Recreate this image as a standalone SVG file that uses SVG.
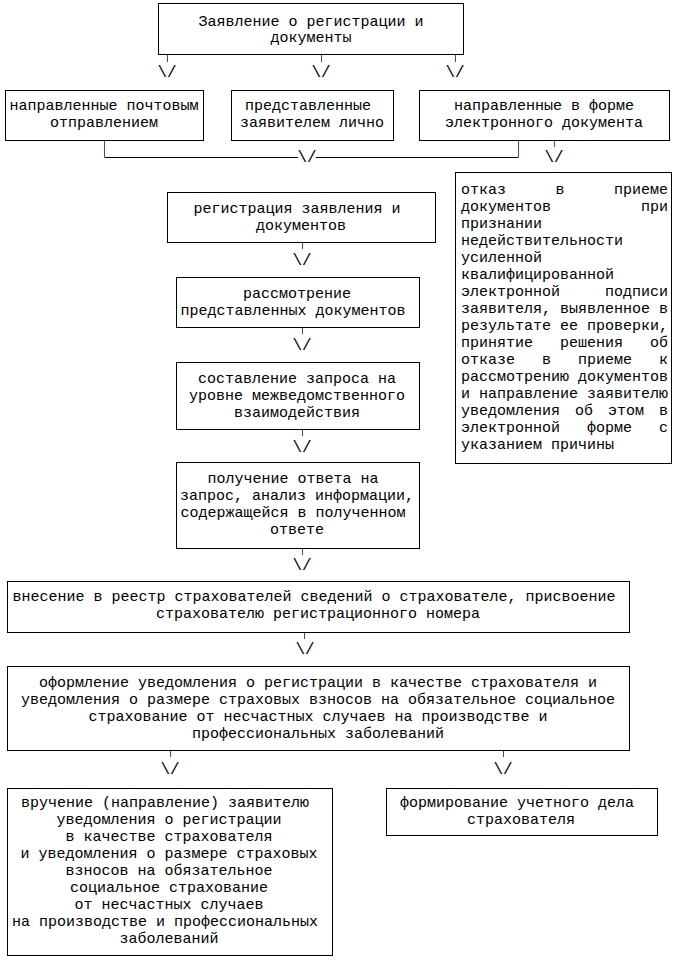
<svg xmlns="http://www.w3.org/2000/svg" width="676" height="960" viewBox="0 0 676 960">
<style>
.box{fill:#fff;stroke:#000;stroke-width:1}
.t{font-family:"Liberation Mono","Courier New",monospace;font-size:15px;fill:#000;text-anchor:middle}
.l{text-anchor:start}
.e{text-anchor:end}
.ar{font-family:"Liberation Mono","Courier New",monospace;font-size:16px;fill:#000;text-anchor:middle}
.p{stroke:#7030A0;stroke-width:1;fill:none}
.k{stroke:#000;stroke-width:1;fill:none}
</style>
<rect width="676" height="960" fill="#fff"/>
<g id="connectors">
<line class="p" x1="167.5" y1="55" x2="167.5" y2="62"/>
<line class="p" x1="321.5" y1="55" x2="321.5" y2="62"/>
<line class="p" x1="455.5" y1="55" x2="455.5" y2="62"/>
<text class="ar" x="167" y="77">\/</text>
<text class="ar" x="321" y="77">\/</text>
<text class="ar" x="455" y="77">\/</text>
<line class="p" x1="104.5" y1="140" x2="104.5" y2="157"/>
<polyline class="k" points="104.5,157.5 298,157.5"/>
<polyline class="k" points="316,157.5 518.5,157.5"/>
<line class="p" x1="518.5" y1="140" x2="518.5" y2="157"/>
<text class="ar" x="307" y="162">\/</text>
<line class="p" x1="554.5" y1="140" x2="554.5" y2="147"/>
<text class="ar" x="554" y="162">\/</text>
<line class="p" x1="302.5" y1="242" x2="302.5" y2="249"/>
<text class="ar" x="302" y="265">\/</text>
<line class="p" x1="302.5" y1="327" x2="302.5" y2="334"/>
<text class="ar" x="302" y="350">\/</text>
<line class="p" x1="302.5" y1="429" x2="302.5" y2="436"/>
<text class="ar" x="302" y="452">\/</text>
<line class="p" x1="302.5" y1="548" x2="302.5" y2="555"/>
<text class="ar" x="302" y="570">\/</text>
<line class="p" x1="304.5" y1="632" x2="304.5" y2="639"/>
<text class="ar" x="305" y="654">\/</text>
<line class="p" x1="170.5" y1="750" x2="170.5" y2="757"/>
<text class="ar" x="170" y="774">\/</text>
<line class="p" x1="503.5" y1="750" x2="503.5" y2="757"/>
<text class="ar" x="503" y="774">\/</text>
</g>
<g id="n1">
<rect class="box" x="158.5" y="3.5" width="305" height="51"/>
<text class="t" x="311" y="26">Заявление о регистрации и</text>
<text class="t" x="311" y="42">документы</text>
</g>
<g id="n2">
<rect class="box" x="5.5" y="90.5" width="198" height="50"/>
<text class="t" x="104" y="110">направленные почтовым</text>
<text class="t" x="104" y="127">отправлением</text>
</g>
<g id="n3">
<rect class="box" x="231.5" y="90.5" width="162" height="50"/>
<text class="t" x="308" y="110">представленные</text>
<text class="t" x="312" y="127">заявителем лично</text>
</g>
<g id="n4">
<rect class="box" x="419.5" y="90.5" width="250" height="50"/>
<text class="t" x="544" y="110">направленные в форме</text>
<text class="t" x="544" y="127">электронного документа</text>
</g>
<g id="n5">
<rect class="box" x="167.5" y="192.5" width="268" height="50"/>
<text class="t" x="297" y="213">регистрация заявления и</text>
<text class="t" x="301" y="230">документов</text>
</g>
<g id="n6">
<rect class="box" x="176.5" y="277.5" width="243" height="50"/>
<text class="t" x="297" y="298">рассмотрение</text>
<text class="t" x="293" y="315">представленных документов</text>
</g>
<g id="n7">
<rect class="box" x="176.5" y="362.5" width="243" height="67"/>
<text class="t" x="297" y="383">составление запроса на</text>
<text class="t" x="297" y="400">уровне межведомственного</text>
<text class="t" x="297" y="417">взаимодействия</text>
</g>
<g id="n8">
<rect class="box" x="176.5" y="462.5" width="243" height="86"/>
<text class="t" x="293" y="483">получение ответа на</text>
<text class="t" x="297" y="500">запрос, анализ информации,</text>
<text class="t" x="293" y="517">содержащейся в полученном</text>
<text class="t" x="297" y="534">ответе</text>
</g>
<g id="n9">
<rect class="box" x="455.5" y="172.5" width="216" height="291"/>
<text class="t l" y="194"><tspan x="461">отказ</tspan><tspan x="555.5">в</tspan><tspan class="e" x="668" text-anchor="end">приеме</tspan></text>
<text class="t l" y="211"><tspan x="461">документов</tspan><tspan x="668" text-anchor="end">при</tspan></text>
<text class="t l" x="461" y="228">признании</text>
<text class="t l" x="461" y="245">недействительности</text>
<text class="t l" x="461" y="262">усиленной</text>
<text class="t l" x="461" y="279">квалифицированной</text>
<text class="t l" y="296"><tspan x="461">электронной</tspan><tspan x="668" text-anchor="end">подписи</tspan></text>
<text class="t l" x="461" y="313">заявителя, выявленное в</text>
<text class="t l" x="461" y="330">результате ее проверки,</text>
<text class="t l" y="347"><tspan x="461">принятие</tspan><tspan x="560">решения</tspan><tspan x="668" text-anchor="end">об</tspan></text>
<text class="t l" y="364"><tspan x="461">отказе</tspan><tspan x="542">в</tspan><tspan x="578">приеме</tspan><tspan x="668" text-anchor="end">к</tspan></text>
<text class="t l" x="461" y="381">рассмотрению документов</text>
<text class="t l" x="461" y="398">и направление заявителю</text>
<text class="t l" y="415"><tspan x="461">уведомления</tspan><tspan x="575">об</tspan><tspan x="608">этом</tspan><tspan x="668" text-anchor="end">в</tspan></text>
<text class="t l" y="432"><tspan x="461">электронной</tspan><tspan x="587">форме</tspan><tspan x="668" text-anchor="end">с</tspan></text>
<text class="t l" x="461" y="449">указанием причины</text>
</g>
<g id="n10">
<rect class="box" x="7.5" y="581.5" width="622" height="51"/>
<text class="t" x="314" y="601">внесение в реестр страхователей сведений о страхователе, присвоение</text>
<text class="t" x="318" y="618">страхователю регистрационного номера</text>
</g>
<g id="n11">
<rect class="box" x="7.5" y="666.5" width="622" height="84"/>
<text class="t" x="318" y="687">оформление уведомления о регистрации в качестве страхователя и</text>
<text class="t" x="318" y="704">уведомления о размере страховых взносов на обязательное социальное</text>
<text class="t" x="318" y="721">страхование от несчастных случаев на производстве и</text>
<text class="t" x="318" y="738">профессиональных заболеваний</text>
</g>
<g id="n12">
<rect class="box" x="7.5" y="788.5" width="325" height="167"/>
<text class="t" x="165" y="807">вручение (направление) заявителю</text>
<text class="t" x="169" y="824">уведомления о регистрации</text>
<text class="t" x="169" y="841">в качестве страхователя</text>
<text class="t" x="169" y="858">и уведомления о размере страховых</text>
<text class="t" x="169" y="875">взносов на обязательное</text>
<text class="t" x="169" y="892">социальное страхование</text>
<text class="t" x="169" y="909">от несчастных случаев</text>
<text class="t" x="165" y="926">на производстве и профессиональных</text>
<text class="t" x="169" y="943">заболеваний</text>
</g>
<g id="n13">
<rect class="box" x="386.5" y="788.5" width="271" height="47"/>
<text class="t" x="517" y="807">формирование учетного дела</text>
<text class="t" x="521" y="824">страхователя</text>
</g>
</svg>
